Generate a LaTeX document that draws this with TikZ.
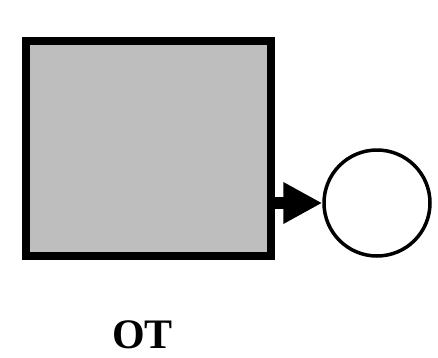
\documentclass[tikz,border=0pt]{standalone}
\usepackage{fontspec}
\usepackage{xcolor}
\usepackage{tikz}
\usetikzlibrary{arrows.meta, positioning}
\newfontfamily\otfont{Liberation Serif}
\definecolor{boxgray}{RGB}{190,190,190}

\begin{document}
\begin{tikzpicture}[x=1pt, y=-1pt,
				>={Triangle[length=39pt, width=39pt]},
				box/.style={draw, fill=boxgray, line width=8pt, minimum width=245pt, minimum height=215pt, inner sep=0pt},
				place/.style={draw, circle, fill=white, line width=3.5pt, minimum size=106pt, inner sep=0pt}]
				\useasboundingbox (0,0) rectangle (438,357);
				\node at (148.5,148.5) (ot) [box] {};
				\node at (377,203) (p) [place] {};
				\node at (142.5,348) (lab) [anchor=base] {\otfont\fontsize{42pt}{42pt}\selectfont\bfseries OT};
				\draw[->, line width=12pt] (ot.east |- p.west) -- (p.west);
			\end{tikzpicture}
\end{document}
